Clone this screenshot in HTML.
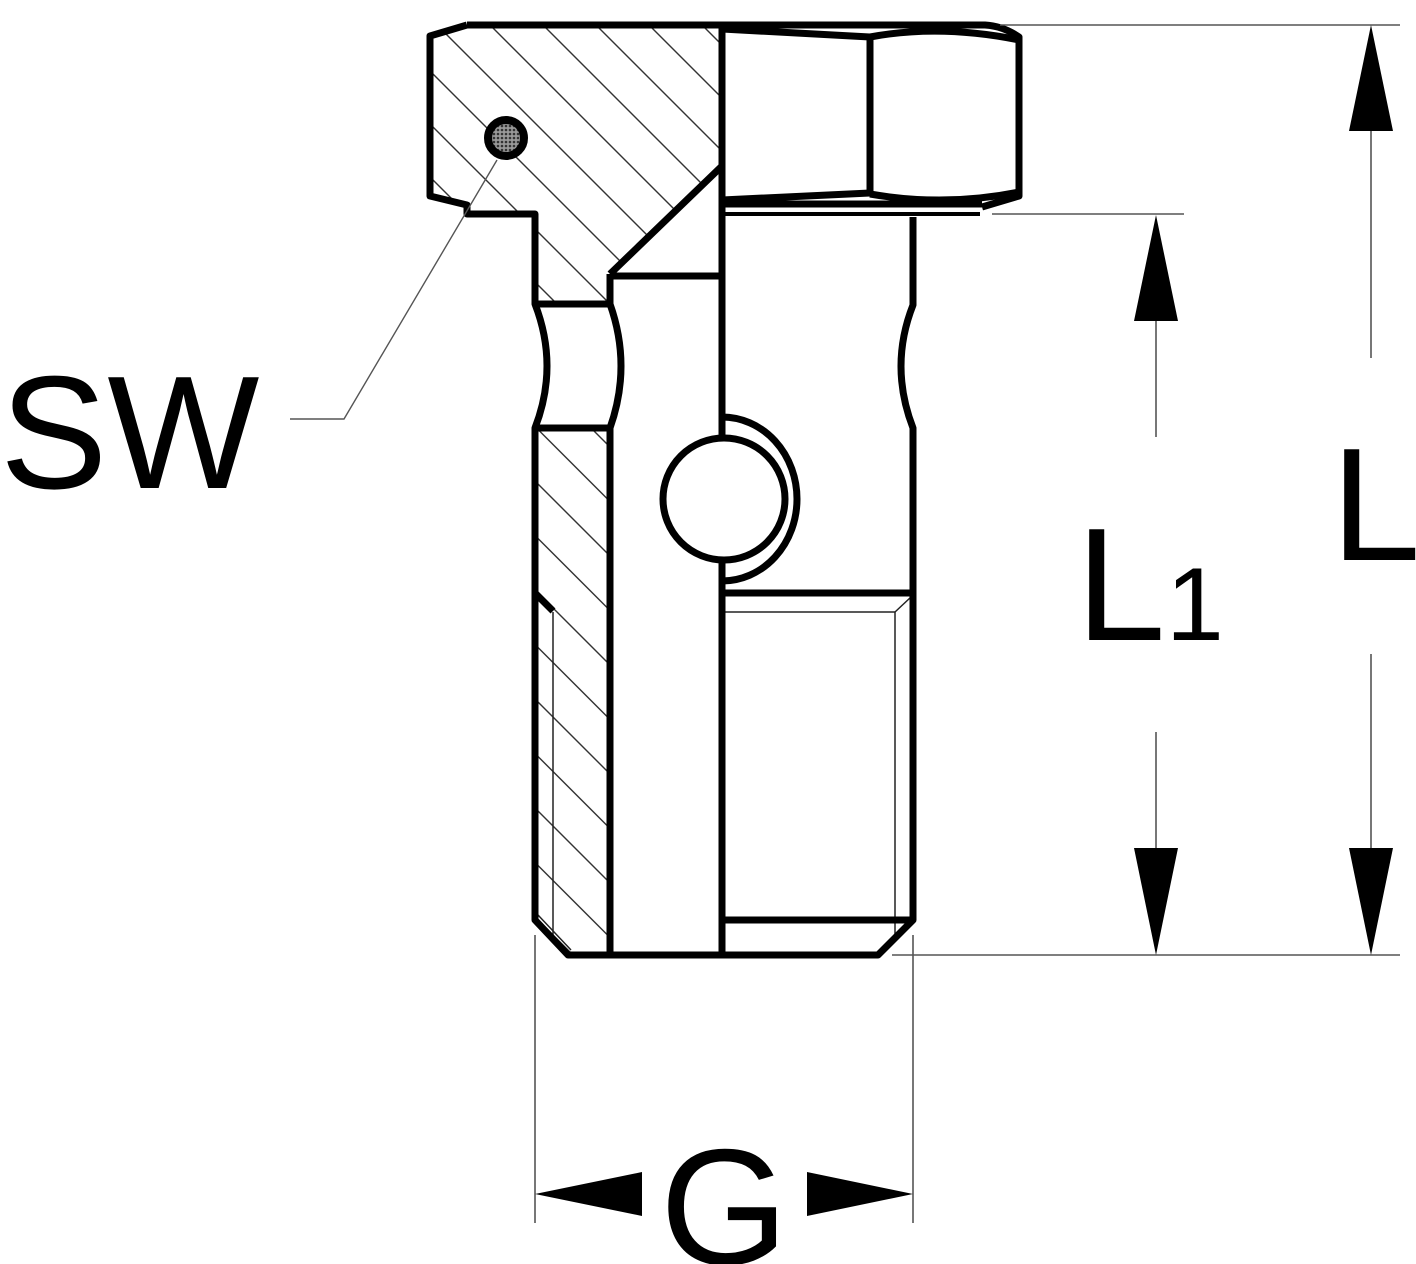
<!DOCTYPE html>
<html><head><meta charset="utf-8"><style>
html,body{margin:0;padding:0;background:#fff;}
svg{display:block;}
text{font-family:"Liberation Sans",Arial,sans-serif;fill:#000;}
</style></head><body>
<svg width="1416" height="1264" viewBox="0 0 1416 1264" xmlns="http://www.w3.org/2000/svg">
<defs>
<clipPath id="ch"><polygon points="430,36 467,25 722,25 722,166 610,276 610,304 535,304 535,214 467,214 467,205 430,196"/></clipPath>
<clipPath id="cw"><polygon points="535,428 610,428 610,955 568,955 535,920"/></clipPath>
<pattern id="dots" width="4" height="4" patternUnits="userSpaceOnUse"><rect width="4" height="4" fill="#999"/><circle cx="2" cy="2" r="1.3" fill="#333"/></pattern>
</defs>
<rect width="1416" height="1264" fill="#fff"/>

<!-- hatching head -->
<g clip-path="url(#ch)" stroke="#333" stroke-width="1.4">
<line x1="147" y1="-53" x2="547" y2="347"/>
<line x1="200" y1="0" x2="600" y2="400"/>
<line x1="253" y1="0" x2="653" y2="400"/>
<line x1="306" y1="0" x2="706" y2="400"/>
<line x1="359" y1="0" x2="759" y2="400"/>
<line x1="412" y1="0" x2="812" y2="400"/>
<line x1="465" y1="0" x2="865" y2="400"/>
<line x1="518" y1="0" x2="918" y2="400"/>
<line x1="571" y1="0" x2="971" y2="400"/>
<line x1="624" y1="0" x2="1024" y2="400"/>
<line x1="677" y1="0" x2="1077" y2="400"/>
<line x1="730" y1="0" x2="1130" y2="400"/>
</g>
<!-- hatching lower wall -->
<g clip-path="url(#cw)" stroke="#333" stroke-width="1.4">
<line x1="563" y1="400" x2="1163" y2="1000"/>
<line x1="508.5" y1="400" x2="1108.5" y2="1000"/>
<line x1="454" y1="400" x2="1054" y2="1000"/>
<line x1="399.5" y1="400" x2="999.5" y2="1000"/>
<line x1="345" y1="400" x2="945" y2="1000"/>
<line x1="290.5" y1="400" x2="890.5" y2="1000"/>
<line x1="236" y1="400" x2="836" y2="1000"/>
<line x1="181.5" y1="400" x2="781.5" y2="1000"/>
<line x1="127" y1="400" x2="727" y2="1000"/>
<line x1="72.5" y1="400" x2="672.5" y2="1000"/>
<line x1="18" y1="400" x2="618" y2="1000"/>
</g>

<!-- thin thread lines -->
<g stroke="#222" stroke-width="1.5" fill="none">
<line x1="553" y1="612" x2="553" y2="940"/>
<line x1="538" y1="915" x2="571" y2="950"/>
<line x1="722" y1="612" x2="895" y2="612"/>
<line x1="895" y1="612" x2="911" y2="597"/>
<line x1="895" y1="612" x2="895" y2="938"/>
<line x1="895" y1="938" x2="911" y2="922"/>
</g>

<!-- thick outline -->
<g stroke="#000" stroke-width="7" fill="none" stroke-linejoin="round" stroke-linecap="butt">
<path d="M467,25 L985,25 Q1003,26 1019,37 L1019,196 L982,207"/>
<path d="M467,25 L430,36 L430,196 L467,205 L467,214 L535,214 L535,304 Q559,366 535,428 L535,920 L568,955 L878,955 L913,920 L913,428 Q889,366 913,305 L913,217"/>
<path d="M535,304 L610,304"/>
<path d="M535,428 L610,428"/>
<path d="M610,274 L610,304 Q632,366 610,428 L610,955"/>
<path d="M610,274 L722,166"/>
<path d="M610,276 L722,276"/>
<path d="M722,25 L722,435"/>
<path d="M722,563 L722,955"/>
<path d="M870,36 L870,196"/>
<path d="M722,29 L870,37"/>
<path d="M870,37 Q940,24 1019,40"/>
<path d="M722,200 L870,193"/>
<path d="M870,194 Q945,207 1019,192"/>
<path d="M722,204 L982,204"/>
<path d="M722,593 L913,593"/>
<path d="M722,920 L913,920"/>
<path d="M535,593 L553,611"/>
</g>
<path d="M722,214 L980,214" stroke="#000" stroke-width="4" fill="none"/>

<!-- cross hole -->
<circle cx="724" cy="499" r="61" fill="#fff" stroke="#000" stroke-width="7"/>
<path d="M722,417 A75,82 0 0 1 722,581" fill="none" stroke="#000" stroke-width="7"/>

<!-- ball -->
<circle cx="506" cy="138" r="18" fill="url(#dots)" stroke="#000" stroke-width="8"/>

<!-- leader SW -->
<polyline points="290,419 344,419 497,160" fill="none" stroke="#555" stroke-width="1.4"/>

<!-- dimension lines -->
<g stroke="#555" stroke-width="1.6" fill="none">
<line x1="1000" y1="25" x2="1400" y2="25"/>
<line x1="992" y1="214" x2="1184" y2="214"/>
<line x1="892" y1="955" x2="1400" y2="955"/>
<line x1="1371" y1="130" x2="1371" y2="358"/>
<line x1="1371" y1="654" x2="1371" y2="850"/>
<line x1="1156" y1="320" x2="1156" y2="437"/>
<line x1="1156" y1="732" x2="1156" y2="850"/>
<line x1="535" y1="935" x2="535" y2="1223"/>
<line x1="913" y1="935" x2="913" y2="1223"/>
</g>
<g fill="#000">
<polygon points="1371,25 1349,131 1393,131"/>
<polygon points="1371,955 1349,848 1393,848"/>
<polygon points="1156,215 1134,321 1178,321"/>
<polygon points="1156,955 1134,848 1178,848"/>
<polygon points="535,1194 642,1172 642,1216"/>
<polygon points="913,1194 807,1172 807,1216"/>
</g>

<!-- labels -->
<text x="0" y="488" font-size="161">SW</text>
<text x="1331" y="560" font-size="161">L</text>
<text x="1076" y="640" font-size="161">L</text>
<text x="1166" y="640" font-size="104">1</text>
<text x="660" y="1264" font-size="165">G</text>
</svg>
</body></html>
